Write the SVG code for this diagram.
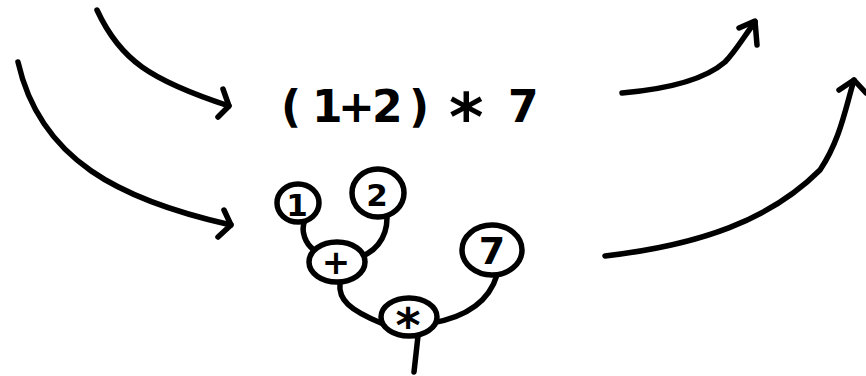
<svg xmlns="http://www.w3.org/2000/svg" width="866" height="376" viewBox="0 0 866 376">
<style>
.s{fill:none;stroke:#000;stroke-width:5.5;stroke-linecap:round;stroke-linejoin:round}
.n{fill:#fff;stroke:#000;stroke-width:5.5}
.t{font-family:"DejaVu Sans","Liberation Sans",sans-serif;font-weight:bold;fill:#000}
.nt{font-family:"DejaVu Sans","Liberation Sans",sans-serif;font-weight:bold;fill:#000;text-anchor:middle;dominant-baseline:central}
</style>
<rect width="866" height="376" fill="#fff"/>
<g id="connectors">
  <path class="s" d="M97,10 C120,60 150,80 229,106"/>
  <path class="s" d="M223,89 L229,106 L218,117"/>
  <path class="s" d="M18,62 C40,160 120,200 231,225"/>
  <path class="s" d="M224,210 L231,225 L218,237"/>
  <path class="s" d="M622,93 C680,88 710,75 725,62 C735,52 745,35 755,22"/>
  <path class="s" d="M739,28 L755,21 L757,45"/>
  <path class="s" d="M605,256 C700,245 770,220 820,170 C840,140 845,110 854,80"/>
  <path class="s" d="M839,90 L854,80 L866,93"/>
  <path class="s" d="M305,220 C300,232 306,244 314,250"/>
  <path class="s" d="M387,218 C387,238 375,255 352,259"/>
  <path class="s" d="M340,283 C338,300 350,310 381,323"/>
  <path class="s" d="M497,275 C488,305 460,318 432,323"/>
  <path class="s" d="M418,336 L414,372"/>
</g>
<g id="expr">
  <text class="t" font-size="44" x="281 312 338 372 409" y="122">(1+2)</text>
  <text class="t" font-size="66" x="449" y="140">*</text>
  <text class="t" font-size="44" x="508" y="122">7</text>
</g>
<g id="node-1"><ellipse class="n" cx="298" cy="203" rx="21" ry="19"/><text class="nt" x="297" y="205" style="font-size:31px">1</text></g>
<g id="node-2"><ellipse class="n" cx="378" cy="193" rx="26" ry="24"/><text class="nt" x="377" y="195" style="font-size:31px">2</text></g>
<g id="node-plus"><ellipse class="n" cx="337" cy="262" rx="28" ry="20"/><text class="nt" x="336" y="262" style="font-size:34px">+</text></g>
<g id="node-7"><ellipse class="n" cx="492" cy="250" rx="30" ry="25"/><text class="nt" x="492" y="251" style="font-size:38px">7</text></g>
<g id="node-mul"><ellipse class="n" cx="409" cy="317" rx="28" ry="19"/><text class="nt" x="408" y="325" style="font-size:48px">*</text></g>
</svg>
